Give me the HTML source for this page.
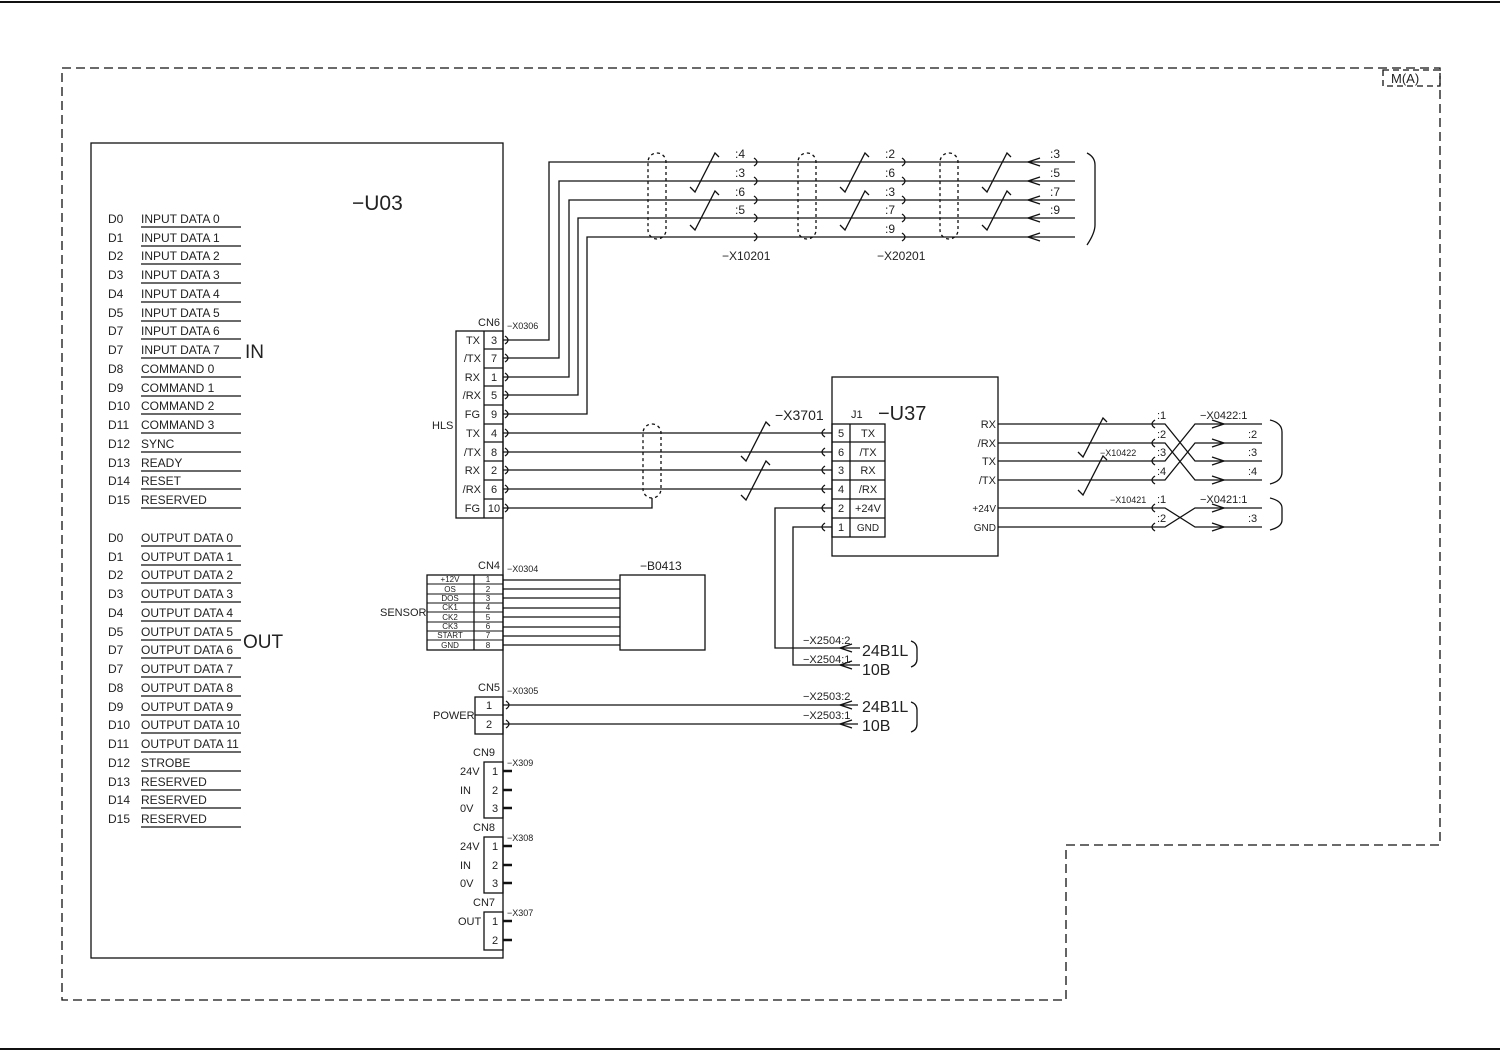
<!DOCTYPE html>
<html><head><meta charset="utf-8"><style>
html,body{margin:0;padding:0;background:#fff}
svg{display:block}
text{font-family:"Liberation Sans",sans-serif;fill:#222}
</style></head><body>
<svg width="1500" height="1052" viewBox="0 0 1500 1052" xmlns="http://www.w3.org/2000/svg">
<g stroke="#111" fill="none" stroke-width="1.3">
<line x1="0" y1="2" x2="1500" y2="2" stroke-width="2"/>
<line x1="0" y1="1049" x2="1500" y2="1049" stroke-width="2"/>
<path d="M62 68 H1440 V845 H1066 V1000 H62 Z" stroke-dasharray="9 5"/>
<rect x="1383" y="70" width="57" height="16" stroke-dasharray="6 4"/>
<!-- U03 -->
<rect x="91" y="143" width="412" height="815"/>
<path d="M141 227h100M141 246h100M141 264h100M141 283h100M141 302h100M141 321h100M141 339h100M141 358h100M141 377h100M141 396h100M141 414h100M141 433h100M141 452h100M141 471h100M141 489h100M141 508h100"/>
<path d="M141 546h100M141 565h100M141 583h100M141 602h100M141 621h100M141 640h100M141 658h100M141 677h100M141 696h100M141 715h100M141 733h100M141 752h100M141 771h100M141 790h100M141 808h100M141 827h100"/>
<!-- CN6 -->
<rect x="456" y="331" width="47" height="187"/>
<line x1="484" y1="331" x2="484" y2="518"/>
<path d="M484 349h19M484 368h19M484 386h19M484 405h19M484 424h19M484 442h19M484 461h19M484 480h19M484 499h19"/>
<path d="M503 340H549V162H1075"/>
<path d="M503 358H559V181H1075"/>
<path d="M503 377H569V200H1075"/>
<path d="M503 395H578V218H1075"/>
<path d="M503 414H587V237H1075"/>
<rect x="648" y="153" width="18" height="86" rx="9" stroke-dasharray="3 3"/>
<rect x="798" y="153" width="18" height="86" rx="9" stroke-dasharray="3 3"/>
<rect x="940" y="153" width="18" height="86" rx="9" stroke-dasharray="3 3"/>
<path d="M690 187l5 5 20-39 4 4"/><path d="M690 225l5 5 20-39 4 4"/>
<path d="M840 187l5 5 20-39 4 4"/><path d="M840 225l5 5 20-39 4 4"/>
<path d="M982 187l5 5 20-39 4 4"/><path d="M982 225l5 5 20-39 4 4"/>
<path d="M754 158q6 4 0 8M754 177q6 4 0 8M754 196q6 4 0 8M754 214q6 4 0 8M754 233q6 4 0 8"/>
<path d="M902 158q6 4 0 8M902 177q6 4 0 8M902 196q6 4 0 8M902 214q6 4 0 8M902 233q6 4 0 8"/>
<path d="M1040 158l-12 4 12 4M1040 177l-12 4 12 4M1040 196l-12 4 12 4M1040 214l-12 4 12 4M1040 233l-12 4 12 4"/>
<path d="M1087 153q8 4 8 12v60q0 8-8 20"/>
<path d="M505 336q6 4 0 8M505 354q6 4 0 8M505 373q6 4 0 8M505 391q6 4 0 8M505 410q6 4 0 8M505 429q6 4 0 8M505 448q6 4 0 8M505 466q6 4 0 8M505 485q6 4 0 8M505 504q6 4 0 8"/>
<path d="M503 433H832M503 452H832M503 470H832M503 489H832"/>
<path d="M503 508H652V498"/>
<rect x="643" y="424" width="18" height="74" rx="9" stroke-dasharray="3 3"/>
<path d="M741 456l5 5 20-39 4 4"/><path d="M741 495l5 5 20-39 4 4"/>
<path d="M825 429q-6 4 0 8M825 448q-6 4 0 8M825 466q-6 4 0 8M825 485q-6 4 0 8M825 504q-6 4 0 8M825 523q-6 4 0 8"/>
<!-- U37 -->
<rect x="832" y="377" width="166" height="179"/>
<rect x="832" y="424" width="53" height="113"/>
<line x1="850" y1="424" x2="850" y2="537"/>
<path d="M832 442h53M832 461h53M832 480h53M832 499h53M832 518h53"/>
<path d="M832 508H775V648H860M832 527H793V665H860"/>
<path d="M852 644l-12 4 12 4M852 661l-12 4 12 4"/>
<path d="M911 641q6 2 6 8v10q0 6-6 8"/>
<path d="M998 424H1165L1195 461H1262M998 443H1165L1195 480H1262M998 461H1165L1195 424H1262M998 480H1165L1195 443H1262"/>
<path d="M1078 452l5 5 20-39 4 4"/><path d="M1078 490l5 5 20-39 4 4"/>
<path d="M998 508H1165L1195 527H1262M998 527H1165L1195 508H1262"/>
<path d="M1155 420q-6 4 0 8M1155 439q-6 4 0 8M1155 457q-6 4 0 8M1155 476q-6 4 0 8M1155 504q-6 4 0 8M1155 523q-6 4 0 8"/>
<path d="M1212 420l12 4-12 4M1212 439l12 4-12 4M1212 457l12 4-12 4M1212 476l12 4-12 4M1212 504l12 4-12 4M1212 523l12 4-12 4"/>
<path d="M1270 420q12 3 12 12v40q0 9-12 12M1270 498q12 3 12 10v12q0 7-12 10"/>
<!-- CN4 -->
<rect x="427" y="575" width="76" height="75"/>
<line x1="474" y1="575" x2="474" y2="650"/>
<path d="M427 584h76M427 594h76M427 603h76M427 612h76M427 622h76M427 631h76M427 640h76" stroke-width="1"/>
<path d="M503 580H620M503 589H620M503 598H620M503 608H620M503 617H620M503 627H620M503 636H620M503 645H620"/>
<rect x="620" y="575" width="85" height="75"/>
<!-- CN5 -->
<rect x="475" y="697" width="28" height="37"/>
<line x1="475" y1="715" x2="503" y2="715"/>
<path d="M503 705H858M503 724H858"/>
<path d="M506 701q6 4 0 8M506 720q6 4 0 8"/>
<path d="M852 701l-12 4 12 4M852 720l-12 4 12 4"/>
<path d="M911 702q6 2 6 8v14q0 6-6 8"/>
<rect x="484" y="762" width="19" height="56"/>
<rect x="484" y="837" width="19" height="56"/>
<rect x="484" y="912" width="19" height="38"/>
<path d="M503 771h9M503 790h9M503 808h9M503 846h9M503 865h9M503 883h9M503 921h9M503 940h9" stroke-width="2.5"/>
</g>
<g font-size="12">
<text x="108" y="223">D0</text><text x="141" y="223">INPUT DATA 0</text>
<text x="108" y="242">D1</text><text x="141" y="242">INPUT DATA 1</text>
<text x="108" y="260">D2</text><text x="141" y="260">INPUT DATA 2</text>
<text x="108" y="279">D3</text><text x="141" y="279">INPUT DATA 3</text>
<text x="108" y="298">D4</text><text x="141" y="298">INPUT DATA 4</text>
<text x="108" y="317">D5</text><text x="141" y="317">INPUT DATA 5</text>
<text x="108" y="335">D7</text><text x="141" y="335">INPUT DATA 6</text>
<text x="108" y="354">D7</text><text x="141" y="354">INPUT DATA 7</text>
<text x="108" y="373">D8</text><text x="141" y="373">COMMAND 0</text>
<text x="108" y="392">D9</text><text x="141" y="392">COMMAND 1</text>
<text x="108" y="410">D10</text><text x="141" y="410">COMMAND 2</text>
<text x="108" y="429">D11</text><text x="141" y="429">COMMAND 3</text>
<text x="108" y="448">D12</text><text x="141" y="448">SYNC</text>
<text x="108" y="467">D13</text><text x="141" y="467">READY</text>
<text x="108" y="485">D14</text><text x="141" y="485">RESET</text>
<text x="108" y="504">D15</text><text x="141" y="504">RESERVED</text>
<text x="108" y="542">D0</text><text x="141" y="542">OUTPUT DATA 0</text>
<text x="108" y="561">D1</text><text x="141" y="561">OUTPUT DATA 1</text>
<text x="108" y="579">D2</text><text x="141" y="579">OUTPUT DATA 2</text>
<text x="108" y="598">D3</text><text x="141" y="598">OUTPUT DATA 3</text>
<text x="108" y="617">D4</text><text x="141" y="617">OUTPUT DATA 4</text>
<text x="108" y="636">D5</text><text x="141" y="636">OUTPUT DATA 5</text>
<text x="108" y="654">D7</text><text x="141" y="654">OUTPUT DATA 6</text>
<text x="108" y="673">D7</text><text x="141" y="673">OUTPUT DATA 7</text>
<text x="108" y="692">D8</text><text x="141" y="692">OUTPUT DATA 8</text>
<text x="108" y="711">D9</text><text x="141" y="711">OUTPUT DATA 9</text>
<text x="108" y="729">D10</text><text x="141" y="729">OUTPUT DATA 10</text>
<text x="108" y="748">D11</text><text x="141" y="748">OUTPUT DATA 11</text>
<text x="108" y="767">D12</text><text x="141" y="767">STROBE</text>
<text x="108" y="786">D13</text><text x="141" y="786">RESERVED</text>
<text x="108" y="804">D14</text><text x="141" y="804">RESERVED</text>
<text x="108" y="823">D15</text><text x="141" y="823">RESERVED</text>
</g>
<text x="352" y="210" font-size="21">−U03</text>
<text x="245" y="358" font-size="19">IN</text>
<text x="243" y="648" font-size="19">OUT</text>
<text x="1391" y="83" font-size="13">M(A)</text>
<g font-size="11">
<text x="478" y="326">CN6</text><text x="507" y="329" font-size="9">−X0306</text>
<text x="432" y="429">HLS</text>
<g text-anchor="end">
<text x="480" y="344">TX</text><text x="481" y="362">/TX</text><text x="480" y="381">RX</text><text x="481" y="399">/RX</text><text x="480" y="418">FG</text>
<text x="480" y="437">TX</text><text x="481" y="456">/TX</text><text x="480" y="474">RX</text><text x="481" y="493">/RX</text><text x="480" y="512">FG</text>
</g>
<g text-anchor="middle">
<text x="494" y="344">3</text><text x="494" y="362">7</text><text x="494" y="381">1</text><text x="494" y="399">5</text><text x="494" y="418">9</text>
<text x="494" y="437">4</text><text x="494" y="456">8</text><text x="494" y="474">2</text><text x="494" y="493">6</text><text x="494" y="512">10</text>
</g>
<g font-size="12">
<text x="735" y="158">:4</text><text x="735" y="177">:3</text><text x="735" y="196">:6</text><text x="735" y="214">:5</text>
<text x="885" y="158">:2</text><text x="885" y="177">:6</text><text x="885" y="196">:3</text><text x="885" y="214">:7</text><text x="885" y="233">:9</text>
<text x="1050" y="158">:3</text><text x="1050" y="177">:5</text><text x="1050" y="196">:7</text><text x="1050" y="214">:9</text>
</g>
<text x="722" y="260" font-size="12">−X10201</text><text x="877" y="260" font-size="12">−X20201</text>
<text x="775" y="420" font-size="14">−X3701</text>
<text x="851" y="418">J1</text>
<text x="878" y="420" font-size="20">−U37</text>
<g text-anchor="middle">
<text x="841" y="437">5</text><text x="841" y="456">6</text><text x="841" y="474">3</text><text x="841" y="493">4</text><text x="841" y="512">2</text><text x="841" y="531">1</text>
<text x="868" y="437">TX</text><text x="868" y="456">/TX</text><text x="868" y="474">RX</text><text x="868" y="493">/RX</text><text x="868" y="512">+24V</text><text x="868" y="531" font-size="10">GND</text>
</g>
<g text-anchor="end">
<text x="996" y="428">RX</text><text x="996" y="447">/RX</text><text x="996" y="465">TX</text><text x="996" y="484">/TX</text><text x="996" y="512" font-size="10">+24V</text><text x="996" y="531" font-size="10">GND</text>
</g>
<text x="1157" y="419">:1</text><text x="1157" y="438">:2</text><text x="1157" y="456">:3</text><text x="1157" y="475">:4</text>
<text x="1100" y="456" font-size="9">−X10422</text>
<text x="1200" y="419">−X0422:1</text><text x="1248" y="438">:2</text><text x="1248" y="456">:3</text><text x="1248" y="475">:4</text>
<text x="1110" y="503" font-size="9">−X10421</text><text x="1157" y="503">:1</text><text x="1157" y="522">:2</text>
<text x="1200" y="503">−X0421:1</text><text x="1248" y="522">:3</text>
<text x="478" y="569">CN4</text><text x="507" y="572" font-size="9">−X0304</text>
<text x="380" y="616">SENSOR</text>
<text x="640" y="570" font-size="12">−B0413</text>
<g font-size="8" text-anchor="middle">
<text x="450" y="582">+12V</text><text x="450" y="592">OS</text><text x="450" y="601">DOS</text><text x="450" y="610">CK1</text><text x="450" y="620">CK2</text><text x="450" y="629">CK3</text><text x="450" y="638">START</text><text x="450" y="648">GND</text>
<text x="488" y="582">1</text><text x="488" y="592">2</text><text x="488" y="601">3</text><text x="488" y="610">4</text><text x="488" y="620">5</text><text x="488" y="629">6</text><text x="488" y="638">7</text><text x="488" y="648">8</text>
</g>
<text x="803" y="644">−X2504:2</text><text x="803" y="663">−X2504:1</text>
<text x="862" y="656" font-size="16">24B1L</text><text x="862" y="675" font-size="16">10B</text>
<text x="478" y="691">CN5</text><text x="507" y="694" font-size="9">−X0305</text>
<text x="433" y="719">POWER</text>
<text x="486" y="709">1</text><text x="486" y="728">2</text>
<text x="803" y="700">−X2503:2</text><text x="803" y="719">−X2503:1</text>
<text x="862" y="712" font-size="16">24B1L</text><text x="862" y="731" font-size="16">10B</text>
<text x="473" y="756">CN9</text><text x="507" y="766" font-size="9">−X309</text>
<text x="473" y="831">CN8</text><text x="507" y="841" font-size="9">−X308</text>
<text x="473" y="906">CN7</text><text x="507" y="916" font-size="9">−X307</text>
<text x="460" y="775">24V</text><text x="460" y="794">IN</text><text x="460" y="812">0V</text>
<text x="460" y="850">24V</text><text x="460" y="869">IN</text><text x="460" y="887">0V</text>
<text x="458" y="925">OUT</text>
<text x="492" y="775">1</text><text x="492" y="794">2</text><text x="492" y="812">3</text>
<text x="492" y="850">1</text><text x="492" y="869">2</text><text x="492" y="887">3</text>
<text x="492" y="925">1</text><text x="492" y="944">2</text>
</g>
</svg>
</body></html>
